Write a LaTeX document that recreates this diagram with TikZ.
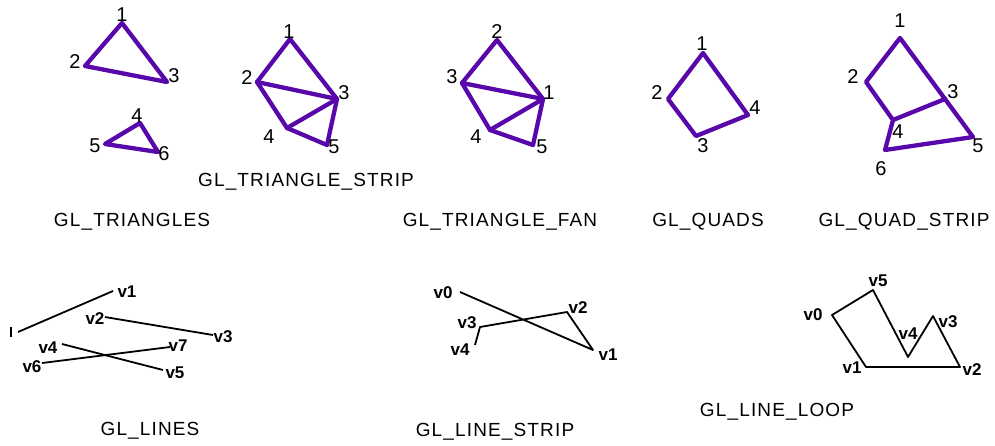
\documentclass[tikz,border=0pt]{standalone}
\usepackage{fontspec}
\setmainfont{Liberation Sans}
\newfontfamily\capfont[LetterSpace=6]{Liberation Sans}
\usepackage{tikz}
\definecolor{glpurple}{RGB}{88,8,170}
\tikzset{
  prim/.style={draw=glpurple, line width=4.3pt, line join=round, line cap=round},
  wire/.style={draw=black, line width=1.8pt, line join=round},
  num/.style={inner sep=0pt, font=\fontsize{20}{20}\selectfont},
  vname/.style={inner sep=0pt, font=\fontsize{17}{17}\selectfont\bfseries},
  caption/.style={inner sep=0pt, font=\fontsize{19}{19}\selectfont\capfont}
}

\begin{document}
\begin{tikzpicture}[x=1pt, y=-1pt]
    \useasboundingbox (0,0) rectangle (995,445);

    % GL_TRIANGLES
    \coordinate (ta1) at (122,23);
    \coordinate (ta2) at (85,66);
    \coordinate (ta3) at (167,82);
    \coordinate (ta4) at (140,123);
    \coordinate (ta5) at (105,144);
    \coordinate (ta6) at (158,152);
    \draw[prim] (ta1) -- (ta2) -- (ta3) -- cycle;
    \draw[prim] (ta4) -- (ta5) -- (ta6) -- cycle;
    \node[num] (la1) at (122,15) {1};
    \node[num] (la2) at (75,62) {2};
    \node[num] (la3) at (174,76) {3};
    \node[num] (la4) at (137,116) {4};
    \node[num] (la5) at (95,146) {5};
    \node[num] (la6) at (164,154) {6};
    \node[caption] (cap1) at (132,222) {GL\_TRIANGLES};

    % GL_TRIANGLE_STRIP
    \coordinate (ts1) at (290,39);
    \coordinate (ts2) at (257,82);
    \coordinate (ts3) at (337,99);
    \coordinate (ts4) at (287,128);
    \coordinate (ts5) at (327,145);
    \draw[prim] (ts1) -- (ts2) -- (ts4) -- (ts5) -- (ts3) -- cycle;
    \draw[prim] (ts2) -- (ts3) -- (ts4);
    \node[num] (ls1) at (289,32) {1};
    \node[num] (ls2) at (247,78) {2};
    \node[num] (ls3) at (344,93) {3};
    \node[num] (ls4) at (269,137) {4};
    \node[num] (ls5) at (334,147) {5};
    \node[caption] (cap2) at (306,182) {GL\_TRIANGLE\_STRIP};

    % GL_TRIANGLE_FAN
    \coordinate (tf1) at (543,99);
    \coordinate (tf2) at (497,40);
    \coordinate (tf3) at (462,83);
    \coordinate (tf4) at (490,130);
    \coordinate (tf5) at (533,145);
    \draw[prim] (tf1) -- (tf2) -- (tf3) -- (tf4) -- (tf5) -- cycle;
    \draw[prim] (tf3) -- (tf1) -- (tf4);
    \node[num] (lf1) at (549,93) {1};
    \node[num] (lf2) at (497,32) {2};
    \node[num] (lf3) at (452,77) {3};
    \node[num] (lf4) at (476,137) {4};
    \node[num] (lf5) at (542,147) {5};
    \node[caption] (cap3) at (500,222) {GL\_TRIANGLE\_FAN};

    % GL_QUADS
    \coordinate (q1) at (703,53);
    \coordinate (q2) at (668,99);
    \coordinate (q3) at (696,136);
    \coordinate (q4) at (748,115);
    \draw[prim] (q1) -- (q2) -- (q3) -- (q4) -- cycle;
    \node[num] (lq1) at (702,44) {1};
    \node[num] (lq2) at (657,93) {2};
    \node[num] (lq3) at (703,146) {3};
    \node[num] (lq4) at (755,108) {4};
    \node[caption] (cap4) at (708,222) {GL\_QUADS};

    % GL_QUAD_STRIP
    \coordinate (qs1) at (900,38);
    \coordinate (qs2) at (866,82);
    \coordinate (qs3) at (945,99);
    \coordinate (qs4) at (893,120);
    \coordinate (qs5) at (973,137);
    \coordinate (qs6) at (885,150);
    \draw[prim] (qs1) -- (qs2) -- (qs4) -- (qs6) -- (qs5) -- (qs3) -- cycle;
    \draw[prim] (qs4) -- (qs3);
    \node[num] (lqs1) at (900,21) {1};
    \node[num] (lqs2) at (853,77) {2};
    \node[num] (lqs3) at (953,92) {3};
    \node[num] (lqs4) at (898,132) {4};
    \node[num] (lqs5) at (978,146) {5};
    \node[num] (lqs6) at (881,169) {6};
    \node[caption] (cap5) at (904,222) {GL\_QUAD\_STRIP};

    % GL_LINES
    \coordinate (l0) at (18,332);
    \coordinate (l1) at (113,291);
    \coordinate (l2) at (105,317);
    \coordinate (l3) at (213,335);
    \coordinate (l4) at (62,344);
    \coordinate (l5) at (163,370);
    \coordinate (l6) at (42,363);
    \coordinate (l7) at (170,347);
    \draw[wire] (l0) -- (l1);
    \draw[wire] (l2) -- (l3);
    \draw[wire] (l4) -- (l5);
    \draw[wire] (l6) -- (l7);
    \draw[wire] (11,327) -- (11,337);
    \node[vname] (vl1) at (127,292) {v1};
    \node[vname] (vl2) at (95,319) {v2};
    \node[vname] (vl3) at (223,337) {v3};
    \node[vname] (vl4) at (48,348) {v4};
    \node[vname] (vl5) at (175,373) {v5};
    \node[vname] (vl6) at (32,367) {v6};
    \node[vname] (vl7) at (178,346) {v7};
    \node[caption] (cap6) at (150,431) {GL\_LINES};

    % GL_LINE_STRIP
    \coordinate (s0) at (460,292);
    \coordinate (s1) at (593,350);
    \coordinate (s2) at (567,312);
    \coordinate (s3) at (480,327);
    \coordinate (s4) at (475,345);
    \draw[wire] (s0) -- (s1) -- (s2) -- (s3) -- (s4);
    \node[vname] (vs0) at (443,293) {v0};
    \node[vname] (vs1) at (608,355) {v1};
    \node[vname] (vs2) at (578,308) {v2};
    \node[vname] (vs3) at (467,323) {v3};
    \node[vname] (vs4) at (460,350) {v4};
    \node[caption] (cap7) at (495,432) {GL\_LINE\_STRIP};

    % GL_LINE_LOOP
    \coordinate (p0) at (832,315);
    \coordinate (p1) at (866,367);
    \coordinate (p2) at (960,367);
    \coordinate (p3) at (933,316);
    \coordinate (p4) at (908,357);
    \coordinate (p5) at (873,290);
    \draw[wire] (p0) -- (p1) -- (p2) -- (p3) -- (p4) -- (p5) -- cycle;
    \node[vname] (vp0) at (813,315) {v0};
    \node[vname] (vp1) at (852,368) {v1};
    \node[vname] (vp2) at (972,370) {v2};
    \node[vname] (vp3) at (948,322) {v3};
    \node[vname] (vp4) at (908,334) {v4};
    \node[vname] (vp5) at (878,281) {v5};
    \node[caption] (cap8) at (777,412) {GL\_LINE\_LOOP};
\end{tikzpicture}
\end{document}
